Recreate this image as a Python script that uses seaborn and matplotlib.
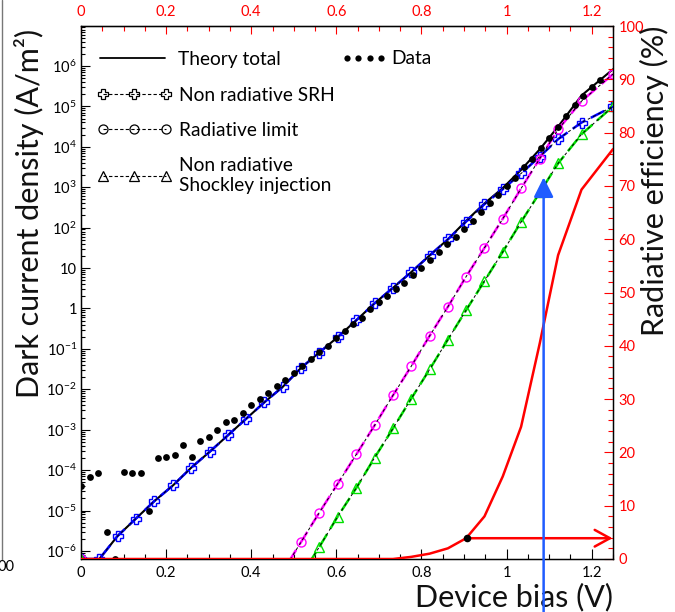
import numpy as np
import pandas as pd
import matplotlib
matplotlib.use("Agg")
import matplotlib.pyplot as plt
import seaborn as sns
from matplotlib.lines import Line2D
from matplotlib.ticker import MultipleLocator, LogLocator, FuncFormatter, NullFormatter

# ---------------- data ----------------
# model voltage grid (V)
v_model = [0.000, 0.043, 0.086, 0.129, 0.172, 0.216, 0.259, 0.302, 0.345, 0.388,
           0.431, 0.474, 0.517, 0.560, 0.603, 0.647, 0.690, 0.733, 0.776, 0.819,
           0.862, 0.905, 0.948, 0.991, 1.034, 1.078, 1.121, 1.176, 1.250]
# log10 of current densities (A/m^2); nan = far below the axis
log_total = [-6.2, -6.2, -5.63, -5.20, -4.77, -4.38, -3.94, -3.55, -3.14, -2.73,
             -2.32, -1.94, -1.47, -1.09, -0.71, -0.29, 0.13, 0.51, 0.90, 1.31,
             1.71, 2.17, 2.60, 2.98, 3.43, 3.94, 4.50, 5.27, 5.92]
log_srh = [-6.2, -6.2, -5.63, -5.20, -4.77, -4.38, -3.94, -3.55, -3.14, -2.73,
           -2.32, -1.94, -1.47, -1.09, -0.71, -0.29, 0.13, 0.51, 0.90, 1.31,
           1.71, 2.15, 2.58, 2.95, 3.34, 3.76, 4.19, 4.60, 5.00]
log_rad = [-6.2, np.nan, np.nan, np.nan, np.nan, np.nan, np.nan, np.nan, np.nan, np.nan,
           np.nan, -6.51, -5.78, -5.05, -4.34, -3.61, -2.89, -2.15, -1.43, -0.68,
           0.04, 0.79, 1.50, 2.22, 2.97, 3.71, 4.43, 5.13, 5.80]
log_shock = [-6.2, np.nan, np.nan, np.nan, np.nan, np.nan, np.nan, np.nan, np.nan, np.nan,
             np.nan, np.nan, -6.62, -5.90, -5.15, -4.44, -3.69, -2.97, -2.23, -1.51,
             -0.77, -0.04, 0.68, 1.40, 2.14, 2.87, 3.59, 4.31, 5.00]
# radiative efficiency (%)
eff = [0, 0, 0, 0, 0, 0, 0, 0, 0, 0,
       0, 0, 0, 0, 0, 0, 0, 0, 0.4, 1.0,
       2.0, 3.9, 8.0, 15.5, 24.8, 40.5, 57.0, 69.3, 76.9]

# measured data
v_data = [0.00, 0.02, 0.04, 0.06, 0.08, 0.10, 0.12, 0.14, 0.16, 0.18,
          0.20, 0.22, 0.24, 0.26, 0.28, 0.30, 0.32, 0.34, 0.36, 0.38,
          0.40, 0.42, 0.44, 0.46, 0.48, 0.50, 0.52, 0.54, 0.56, 0.58,
          0.60, 0.62, 0.64, 0.66, 0.68, 0.70, 0.72, 0.74, 0.76, 0.78,
          0.80, 0.82, 0.84, 0.86, 0.88, 0.90, 0.92, 0.94, 0.96, 0.98,
          1.00, 1.02, 1.04, 1.06, 1.08, 1.10, 1.12, 1.14, 1.16, 1.18,
          1.20, 1.22]
log_data = [-4.40, -4.16, -4.06, -5.52, -6.20, -4.04, -4.06, -4.06, -5.00, -3.71,
            -3.68, -3.63, -3.38, -3.68, -3.28, -3.18, -3.02, -2.80, -2.75, -2.58,
            -2.40, -2.25, -2.08, -1.92, -1.78, -1.59, -1.43, -1.26, -1.08, -0.93,
            -0.74, -0.56, -0.38, -0.23, -0.02, 0.15, 0.31, 0.48, 0.64, 0.83,
            1.01, 1.20, 1.40, 1.59, 1.78, 1.97, 2.16, 2.38, 2.62, 2.82,
            3.02, 3.22, 3.49, 3.71, 3.98, 4.23, 4.50, 4.76, 5.03, 5.27,
            5.47, 5.65]

# annotation points
marker_point = (0.907, 3.9)      # black dot on efficiency curve (V, %)
arrow_v = 1.087                  # blue vertical arrow bias (V)
arrow_tip_log = 3.245            # blue arrow tip, log10(J)

legend_labels = ["Theory total", "Data", "Non radiative SRH", "Radiative limit",
                 "Non radiative\nShockley injection"]
x_label = "Device bias (V)"
y_label = "Dark current density (A/m²)"
y2_label = "Radiative efficiency (%)"

# ---------------- style ----------------
sns.set_style("ticks")
FONT = "Lato"
plt.rcParams["font.family"] = [FONT, "DejaVu Sans"]
plt.rcParams["mathtext.fontset"] = "custom"
plt.rcParams["mathtext.rm"] = FONT
plt.rcParams["mathtext.it"] = FONT
plt.rcParams["mathtext.default"] = "regular"
plt.rcParams["axes.edgecolor"] = "black"
plt.rcParams["text.color"] = "black"
plt.rcParams["xtick.color"] = "black"
plt.rcParams["ytick.color"] = "black"

fig = plt.figure(figsize=(6.75, 6.12), dpi=100)
ax = fig.add_axes([81 / 675, 53 / 612, 532 / 675, 533 / 612])
ax.set_yscale("log")
ax.set_xlim(0, 1.25)
ax.set_ylim(10 ** -6.2, 10 ** 6.99)

df_model = pd.DataFrame({
    "V": v_model,
    "total": 10 ** np.array(log_total),
    "srh": 10 ** np.array(log_srh),
    "rad": 10 ** np.array(log_rad),
    "shock": 10 ** np.array(log_shock),
    "eff": eff,
})
df_data = pd.DataFrame({"V": v_data, "J": 10 ** np.array(log_data)})

common = dict(ax=ax, estimator=None, sort=False, legend=False, errorbar=None)

# theory total
sns.lineplot(data=df_model, x="V", y="total", color="black", linewidth=1.5, zorder=3, **common)

# components: coloured dashes + markers, thin black dashed overlay
comp = [("srh", "#0000ff", "P", 7.0), ("rad", "#ff00ff", "o", 6.5), ("shock", "#00e000", "^", 7.0)]
for col, c, mk, ms in comp:
    sub = df_model[["V", col]].dropna()
    sns.lineplot(data=sub, x="V", y=col, color=c, linewidth=1.8, linestyle=(0, (6, 2.5)),
                 marker=mk, markersize=ms, markerfacecolor="none", markeredgecolor=c,
                 markeredgewidth=1.0, zorder=4, **common)
    sns.lineplot(data=sub, x="V", y=col, color="black", linewidth=0.7,
                 linestyle=(0, (3, 3)), zorder=5, **common)

# measured data
sns.scatterplot(data=df_data, x="V", y="J", ax=ax, color="black", marker="o", s=24,
                linewidth=0, zorder=6, legend=False)

# ---------------- axes formatting ----------------
def xfmt(v, pos):
    return f"{v:g}"

def yfmt(v, pos):
    n = int(round(np.log10(v)))
    if n == 0:
        return "1"
    if n == 1:
        return "10"
    return r"$10^{%d}$" % n

ax.xaxis.set_major_locator(MultipleLocator(0.2))
ax.xaxis.set_minor_locator(MultipleLocator(0.05))
ax.xaxis.set_major_formatter(FuncFormatter(xfmt))
ax.yaxis.set_major_locator(LogLocator(base=10, numticks=30))
ax.yaxis.set_minor_locator(LogLocator(base=10, subs=np.arange(2, 10), numticks=30))
ax.yaxis.set_major_formatter(FuncFormatter(yfmt))
ax.yaxis.set_minor_formatter(NullFormatter())
ax.tick_params(which="both", direction="in", top=False, right=False, labelsize=10.5, colors="black")
ax.tick_params(axis="x", which="major", length=7, width=0.8, pad=5)
ax.tick_params(axis="x", which="minor", length=3.5, width=0.8)
ax.tick_params(axis="y", which="major", length=6.5, width=0.8, pad=3)
ax.tick_params(axis="y", which="minor", length=3.2, width=0.8)
for sp in ax.spines.values():
    sp.set_color("black")
    sp.set_linewidth(1.0)

ax.set_xlabel(x_label, fontsize=22, loc="right", color="#111111")
ax.xaxis.set_label_coords(1.0, -0.044)
ax.set_ylabel(y_label, fontsize=22, loc="top", color="#111111")
ax.yaxis.set_label_coords(-0.07, 0.995)

# top red axis
sec = ax.secondary_xaxis("top")
sec.xaxis.set_major_locator(MultipleLocator(0.2))
sec.xaxis.set_minor_locator(MultipleLocator(0.05))
sec.xaxis.set_major_formatter(FuncFormatter(xfmt))
sec.tick_params(which="both", direction="in", colors="red", labelsize=10.5)
sec.tick_params(which="major", length=6, width=0.8, pad=5)
sec.tick_params(which="minor", length=3.5, width=0.8)
sec.spines["top"].set_color("black")

# right red axis: radiative efficiency
ax2 = ax.twinx()
ax2.set_ylim(0, 100)
sns.lineplot(data=df_model, x="V", y="eff", ax=ax2, color="red", linewidth=1.8,
             estimator=None, sort=False, legend=False, errorbar=None, zorder=5)
ax2.yaxis.set_major_locator(MultipleLocator(10))
ax2.yaxis.set_minor_locator(MultipleLocator(2))
ax2.tick_params(axis="y", which="both", direction="in", colors="red", labelsize=10.5)
ax2.tick_params(axis="y", which="major", length=6.5, width=0.8, pad=4)
ax2.tick_params(axis="y", which="minor", length=3.5, width=0.8)
for sp in ax2.spines.values():
    sp.set_color("black")
ax2.set_ylabel(y2_label, fontsize=22, loc="top", color="#111111")
ax2.yaxis.set_label_coords(1.05, 1.0)
ax2.set_xlabel("")

sns.scatterplot(x=[marker_point[0]], y=[marker_point[1]], ax=ax2, color="black", s=30,
                linewidth=0, zorder=7, legend=False)
ax2.annotate("", xy=(1.249, marker_point[1]), xytext=marker_point,
             arrowprops=dict(arrowstyle="->,head_length=0.55,head_width=0.3", color="red",
                             lw=1.8, shrinkA=0, shrinkB=0, mutation_scale=20), zorder=6)
ax2.annotate("", xy=(arrow_v, 10 ** arrow_tip_log), xycoords=ax.transData,
             xytext=(arrow_v, 0), textcoords=(ax.transData, "figure fraction"),
             arrowprops=dict(arrowstyle="-|>,head_length=0.6,head_width=0.3", color="#1f5cff",
                             lw=1.8, shrinkA=0, shrinkB=0, mutation_scale=20),
             annotation_clip=False, zorder=8)

# ---------------- legends ----------------
fs = 13.8
fpx = fs * 100 / 72
def ax_x(px):
    return (px - 81) / 532
def ax_y(py):
    return (559 - py) / 533

leg1 = ax.legend(handles=[Line2D([], [], color="black", lw=1.3)], labels=[legend_labels[0]],
                 loc="center left", bbox_to_anchor=(ax_x(100), ax_y(59)), frameon=False,
                 borderpad=0, borderaxespad=0, handlelength=65 / fpx, handletextpad=13 / fpx,
                 fontsize=fs)
ax.add_artist(leg1)
leg2 = ax.legend(handles=[Line2D([], [], ls="none", marker="o", color="black", ms=4.5, mew=0)],
                 labels=[legend_labels[1]], numpoints=4,
                 loc="center left", bbox_to_anchor=(ax_x(340.8), ax_y(59)), frameon=False,
                 borderpad=0, borderaxespad=0, handlelength=46 / fpx, handletextpad=0.25,
                 fontsize=fs)
ax.add_artist(leg2)
h3 = [Line2D([], [], color="black", lw=0.8, ls=(0, (3, 2)), marker=m, ms=ms,
             mfc="none", mec="black", mew=0.9) for m, ms in [("P", 7), ("o", 6.5), ("^", 7)]]
leg3 = ax.legend(handles=h3, labels=legend_labels[2:], numpoints=3,
                 loc="upper left", bbox_to_anchor=(ax_x(96.8), ax_y(87)), frameon=False,
                 borderpad=0, borderaxespad=0, handlelength=75 / fpx, handletextpad=0.4,
                 labelspacing=0.95, fontsize=fs)

# remnants of neighbouring panel at the left edge
fig.add_artist(Line2D([2 / 675, 2 / 675], [52 / 612, 1.0], transform=fig.transFigure,
                      color="#777777", lw=1.0))
fig.text(-0.004, 45 / 612, "00", fontsize=10.5, va="center", ha="left", color="black")

fig.savefig("out.png", dpi=100)
